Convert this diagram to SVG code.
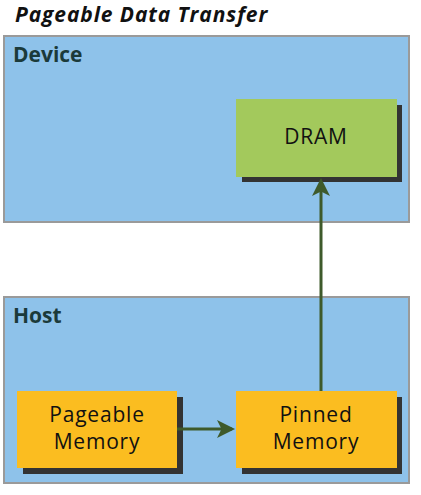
<svg xmlns="http://www.w3.org/2000/svg" width="421" height="495" viewBox="0 0 421 495">
<style>
.title{font-family:"Open Sans",Lato,sans-serif;font-weight:bold;font-style:italic;font-size:21px;letter-spacing:0.9px;fill:#111}
.region{fill:#8ec2ea;stroke:#9a9a9a;stroke-width:2}
.rlabel{font-family:"Open Sans",Lato,sans-serif;font-weight:bold;font-size:21px;fill:#1b3a3a}
.shadow{fill:#333}
.green{fill:#a3c95c}
.orange{fill:#fbbd20}
.ntext{font-family:"Open Sans",Lato,sans-serif;font-size:21px;letter-spacing:0.8px;fill:#111;text-anchor:middle}
.conn{stroke:#3e5a2b;stroke-width:3;fill:none}
</style>
<defs>
<marker id="ah" markerWidth="6" markerHeight="6" refX="5" refY="3" orient="auto" markerUnits="strokeWidth">
<path d="M0,0 L6,3 L0,6 L1.5,3 Z" fill="#3e5a2b"/>
</marker>
</defs>
<rect width="421" height="495" fill="#fff"/>
<text class="title" x="15" y="22">Pageable Data Transfer</text>
<g id="device">
<rect class="region" x="4" y="36" width="405" height="186"/>
<text class="rlabel" x="13" y="62">Device</text>
</g>
<g id="host">
<rect class="region" x="4" y="297" width="405" height="186"/>
<text class="rlabel" x="13" y="323">Host</text>
</g>
<g id="dram">
<rect class="shadow" x="242" y="105" width="160" height="77"/>
<rect class="green" x="236" y="99" width="161" height="78"/>
<text class="ntext" x="316" y="144">DRAM</text>
</g>
<g id="pageable">
<rect class="shadow" x="23" y="397" width="160" height="77"/>
<rect class="orange" x="17" y="391" width="160" height="77"/>
<text class="ntext" x="97" y="422">Pageable</text>
<text class="ntext" x="97" y="449">Memory</text>
</g>
<g id="pinned">
<rect class="shadow" x="242" y="397" width="160" height="77"/>
<rect class="orange" x="236" y="391" width="161" height="77"/>
<text class="ntext" x="316" y="422">Pinned</text>
<text class="ntext" x="316" y="449">Memory</text>
</g>
<g id="connectors">
<line class="conn" x1="177" y1="429" x2="232" y2="429" marker-end="url(#ah)"/>
<line class="conn" x1="321" y1="391" x2="321" y2="181" marker-end="url(#ah)"/>
</g>
</svg>
